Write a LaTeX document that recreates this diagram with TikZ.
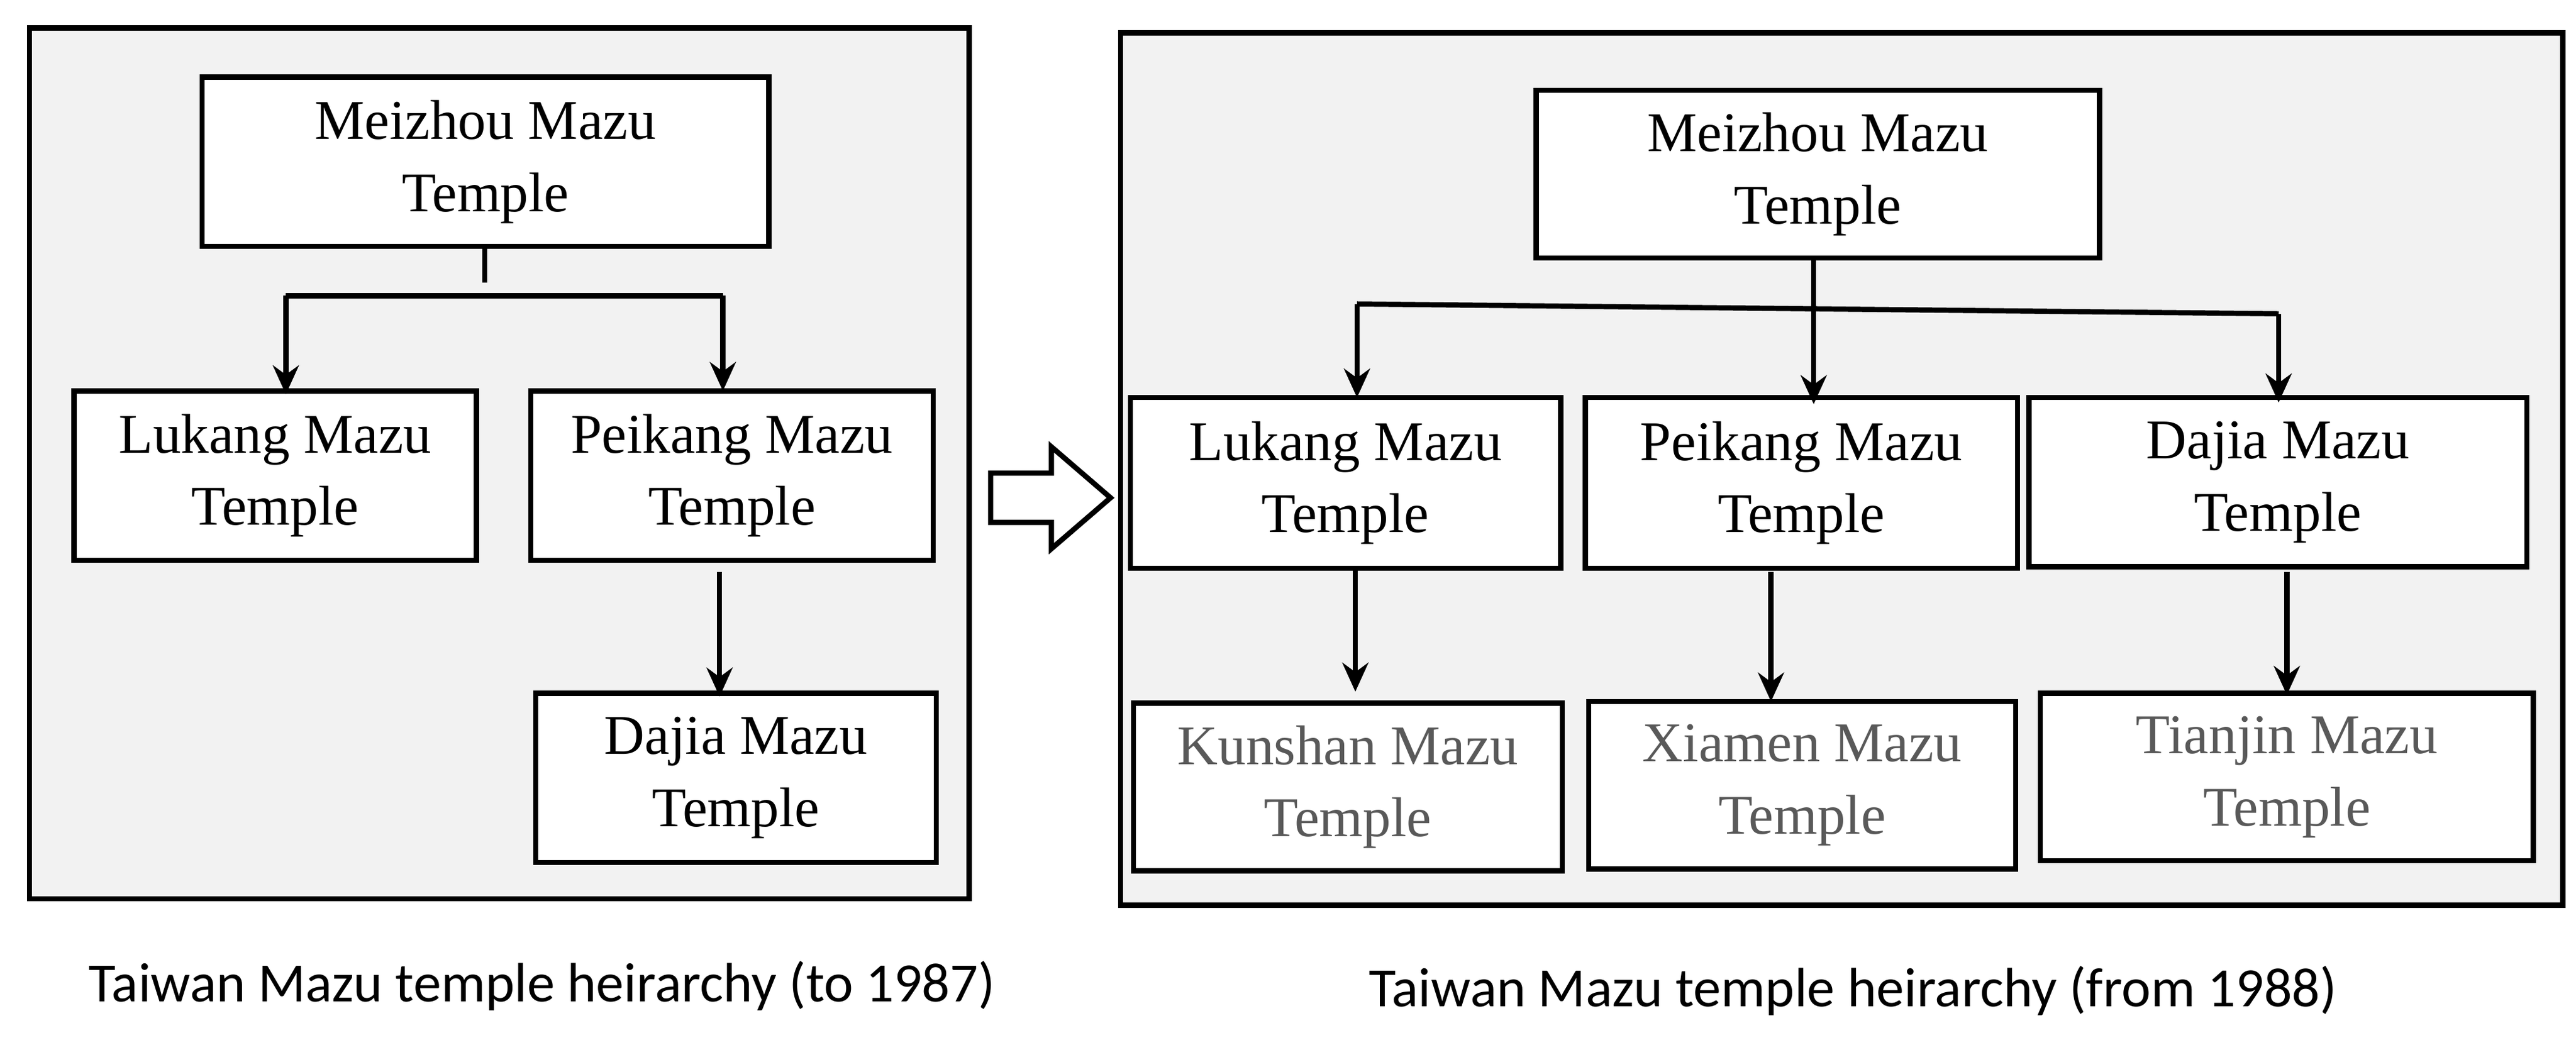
\documentclass[tikz,border=0pt]{standalone}
\usepackage{fontspec}
\usetikzlibrary{arrows.meta}
\setmainfont{Liberation Serif}
\newfontfamily\capfont{Carlito}
\begin{document}
\begin{tikzpicture}[x=0.01cm,y=-0.01cm,
 panel/.style={draw=black,line width=0.9pt,fill=black!5},
 box/.style={draw=black,line width=0.9pt,fill=white},
 lbl/.style={align=center,font=\fontsize{9.7pt}{12.5pt}\selectfont},
 lblg/.style={lbl,text=black!65},
 ln/.style={line width=0.9pt},
 arr/.style={ln,-{Stealth[length=5pt,width=4.5pt]}},
 captxt/.style={font=\capfont\fontsize{9.6pt}{11pt}\selectfont}]
\useasboundingbox (0,0) rectangle (1568,636);
\draw[panel] (18,17) rectangle (590,547);
\draw[panel] (682,20) rectangle (1560,551);
% left
\draw[box] (123,47) rectangle (468,150); \node[lbl] (lm) at (295.5,98.5) {Meizhou Mazu\\Temple};
\draw[box] (45,238) rectangle (290,341); \node[lbl] (ll) at (167.5,289.5) {Lukang Mazu\\Temple};
\draw[box] (323,238) rectangle (568,341); \node[lbl] (lp) at (445.5,289.5) {Peikang Mazu\\Temple};
\draw[box] (326,422) rectangle (570,525); \node[lbl] (ld) at (448,473.5) {Dajia Mazu\\Temple};
\coordinate (a1) at (295,150); \coordinate (a2) at (295,172);
\draw[ln] (a1) -- (a2);
\coordinate (h1) at (174,180); \coordinate (h2) at (440,180);
\draw[ln] (h1) -- (h2);
\coordinate (t1) at (174,240); \coordinate (t2) at (440,238);
\draw[arr] (h1) -- (t1);
\draw[arr] (h2) -- (t2);
\coordinate (p1) at (438,348); \coordinate (p2) at (438,424);
\draw[arr] (p1) -- (p2);
% block arrow
\draw[line width=0.9pt,fill=white] (603,288) -- (640,288) -- (640,272) -- (676,303) -- (640,334) -- (640,318) -- (603,318) -- cycle;
% right
\draw[box] (935,55) rectangle (1278,157); \node[lbl] (rm) at (1106.5,106) {Meizhou Mazu\\Temple};
\draw[box] (688,242) rectangle (950,346); \node[lbl] (rl) at (819,294) {Lukang Mazu\\Temple};
\draw[box] (965,242) rectangle (1228,346); \node[lbl] (rp) at (1096.5,294) {Peikang Mazu\\Temple};
\draw[box] (1235,242) rectangle (1538,345); \node[lbl] (rd) at (1386.5,293.5) {Dajia Mazu\\Temple};
\draw[box] (690,428) rectangle (951,530); \node[lblg] (rk) at (820.5,479) {Kunshan Mazu\\Temple};
\draw[box] (967,427) rectangle (1227,529); \node[lblg] (rx) at (1097,478) {Xiamen Mazu\\Temple};
\draw[box] (1242,422) rectangle (1542,524); \node[lblg] (rt) at (1392,473) {Tianjin Mazu\\Temple};
\coordinate (r1) at (826,185); \coordinate (r2) at (1387,191);
\draw[ln] (r1) -- (r2);
\coordinate (s1) at (826,242); \coordinate (s2) at (1387,245);
\draw[arr] (r1) -- (s1); \draw[arr] (r2) -- (s2);
\coordinate (m1) at (1104,157); \coordinate (m2) at (1104,246);
\draw[arr] (m1) -- (m2);
\coordinate (k1) at (825,346); \coordinate (k2) at (825,421);
\coordinate (x1) at (1078,348); \coordinate (x2) at (1078,427);
\coordinate (j1) at (1392,348); \coordinate (j2) at (1392,423);
\draw[arr] (k1) -- (k2); \draw[arr] (x1) -- (x2); \draw[arr] (j1) -- (j2);
% captions
\node[captxt] (c1) at (330,600) {Taiwan Mazu temple heirarchy (to 1987)};
\node[captxt] (c2) at (1128,603) {Taiwan Mazu temple heirarchy (from 1988)};
\end{tikzpicture}
\end{document}
